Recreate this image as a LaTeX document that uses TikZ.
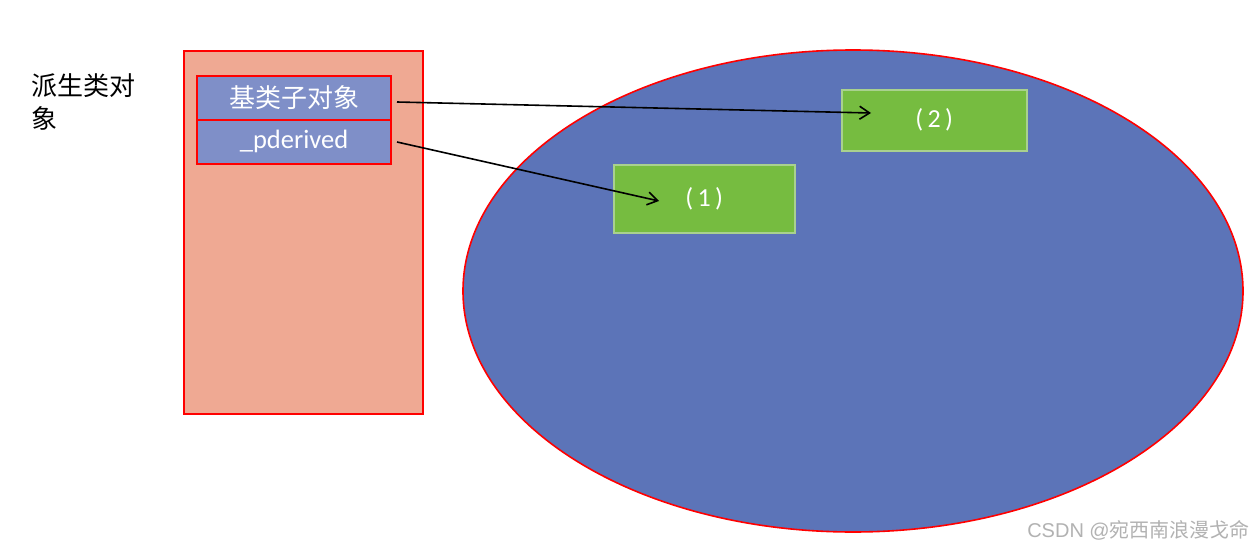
\documentclass[tikz,border=0pt]{standalone}
\usepackage{fontspec}
\setmainfont{Carlito}
\newfontfamily\cjk{Noto Sans CJK SC}
\newfontfamily\wmfont{Liberation Sans}
\usetikzlibrary{arrows.meta,shapes.geometric}
\definecolor{salmon}{HTML}{EFA993}
\definecolor{lightblue}{HTML}{7F8FC8}
\definecolor{ellblue}{HTML}{5C74B8}
\definecolor{grn}{HTML}{76BC40}
\definecolor{grnborder}{HTML}{A9D18E}
\tikzset{
  cell/.style={draw=red, line width=2pt, fill=lightblue, minimum width=194pt, minimum height=43.5pt, inner sep=0pt, text=white, anchor=north west},
  gbox/.style={draw=grnborder, line width=1.5pt, fill=grn, inner sep=0pt, text=white, font=\fontsize{26}{28}\selectfont, anchor=north west},
  ptr/.style={-{Straight Barb[length=10pt,width=13pt,line width=1.6pt]}, line width=1.6pt, black}
}
\begin{document}
\begin{tikzpicture}[x=1pt,y=-1pt]
\useasboundingbox (0,0) rectangle (1255,551);
\fill[white] (0,0) rectangle (1255,551);
% outer object
\node[draw=red, line width=2pt, fill=salmon, minimum width=239pt, minimum height=363pt, anchor=north west, inner sep=0pt] (obj) at (183,50) {};
\node[cell, font=\cjk\fontsize{26}{28}\selectfont] (base) at (196,75) {基类子对象};
\node[cell, font=\fontsize{26.5}{28}\selectfont] (pd) at (196,119) {\_pderived};
% ellipse
\node[draw=red, line width=1.6pt, fill=ellblue, ellipse, minimum width=780pt, minimum height=482pt, inner sep=0pt] (ell) at (853,291) {};
% green boxes
\node[gbox, minimum width=185pt, minimum height=61pt] (g2) at (841,89) {(\,2\,)};
\node[gbox, minimum width=181pt, minimum height=68pt] (g1) at (613,164) {(\,1\,)};
% label
\node[anchor=north west, align=left, font=\cjk\fontsize{26}{33}\selectfont, inner sep=0pt] (lbl) at (31,73) {派生类对\\象};
% arrows
\coordinate (s2) at (397,102);
\coordinate (e2) at (871,113);
\coordinate (s1) at (397,142);
\coordinate (e1) at (659,201);
\draw[ptr] (s2) -- (e2);
\draw[ptr] (s1) -- (e1);
% watermark
\node[anchor=south east, inner sep=0pt, text=black!30, font=\fontsize{20}{22}\selectfont] (wm) at (1250,540) {\wmfont CSDN @\cjk 宛西南浪漫戈命};
\end{tikzpicture}
\end{document}
